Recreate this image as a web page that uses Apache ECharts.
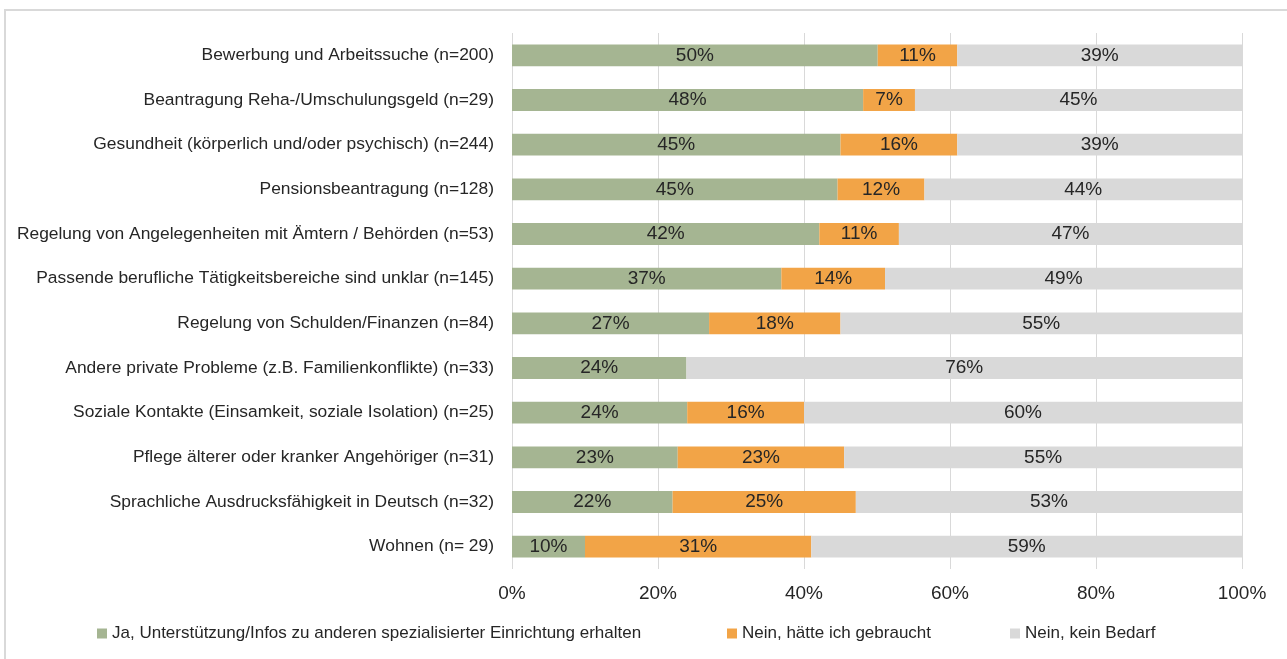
<!DOCTYPE html>
<html>
<head>
<meta charset="utf-8">
<style>
  html, body { margin: 0; padding: 0; background: #ffffff; }
  #chart { width: 1287px; height: 659px; }
</style>
<script src="https://cdn.jsdelivr.net/npm/echarts@6/dist/echarts.min.js"></script>
</head>
<body>
<div id="chart"></div>
<script>
// Themen (von oben nach unten)
const categories = [
  'Bewerbung und Arbeitssuche (n=200)',
  'Beantragung Reha-/Umschulungsgeld (n=29)',
  'Gesundheit (körperlich und/oder psychisch) (n=244)',
  'Pensionsbeantragung (n=128)',
  'Regelung von Angelegenheiten mit Ämtern / Behörden (n=53)',
  'Passende berufliche Tätigkeitsbereiche sind unklar (n=145)',
  'Regelung von Schulden/Finanzen (n=84)',
  'Andere private Probleme (z.B. Familienkonflikte) (n=33)',
  'Soziale Kontakte (Einsamkeit, soziale Isolation) (n=25)',
  'Pflege älterer oder kranker Angehöriger (n=31)',
  'Sprachliche Ausdrucksfähigkeit in Deutsch (n=32)',
  'Wohnen (n= 29)'
];

const seriesNames = [
  'Ja, Unterstützung/Infos zu anderen spezialisierter Einrichtung erhalten',
  'Nein, hätte ich gebraucht',
  'Nein, kein Bedarf'
];

// Anteile in Prozent
const jaErhalten    = [50.1, 48.1, 45.0, 44.6, 42.1, 36.9, 27.0, 23.9, 24.0, 22.7, 22.0, 10.0];
const neinGebraucht = [10.9, 7.1, 16.0, 11.9, 10.9, 14.2, 18.0, 0, 16.0, 22.8, 25.1, 31.0];
const keinBedarf    = [39.0, 44.8, 39.0, 43.5, 47.0, 48.9, 55.0, 76.1, 60.0, 54.5, 52.9, 59.0];

const axisTicks = [0, 20, 40, 60, 80, 100];

const colors = ['#a5b592', '#f2a447', '#d9d9d9'];
const font = 'Liberation Sans, Arial, sans-serif';
const textColor = '#262626';

function makeSeries(name, values, color) {
  return {
    name: name,
    type: 'bar',
    stack: 'total',
    barCategoryGap: '51%',
    data: values,
    itemStyle: { color: color },
    label: {
      show: true,
      position: 'inside',
      color: textColor,
      fontFamily: font,
      fontSize: 19,
      formatter: p => p.value > 0 ? Math.round(p.value) + '%' : ''
    },
    emphasis: { disabled: true }
  };
}

// one legend block per series so each entry sits at its own x position
const legendLefts = [92, 722, 1005];
const legends = seriesNames.map((name, i) => ({
  data: [name],
  left: legendLefts[i],
  top: 620,
  itemWidth: 10,
  itemHeight: 10,
  itemGap: 5,
  icon: 'rect',
  textStyle: { fontFamily: font, fontSize: 17, color: textColor },
  selectedMode: false
}));

const chart = echarts.init(document.getElementById('chart'), null, { renderer: 'canvas' });
chart.setOption({
  animation: false,
  backgroundColor: '#ffffff',
  textStyle: { fontFamily: font },
  graphic: [{
    type: 'rect',
    shape: { x: 5, y: 10, width: 1400, height: 800 },
    style: { fill: 'none', stroke: '#d9d9d9', lineWidth: 2 },
    silent: true,
    z: -10
  }],
  grid: { left: 512, right: 45, top: 33, bottom: 90, containLabel: false },
  legend: legends,
  xAxis: {
    type: 'value',
    min: 0,
    max: 100,
    interval: 20,
    axisLine: { show: false },
    axisTick: { show: false },
    splitLine: { show: true, lineStyle: { color: '#d9d9d9', width: 1 } },
    axisLabel: {
      margin: 15,
      fontFamily: font,
      fontSize: 19,
      color: textColor,
      formatter: v => axisTicks.includes(v) ? v + '%' : ''
    }
  },
  yAxis: {
    type: 'category',
    inverse: true,
    data: categories,
    axisLine: { show: false },
    axisTick: { show: false },
    axisLabel: {
      margin: 18,
      fontFamily: font,
      fontSize: 17.4,
      color: textColor
    }
  },
  series: [
    makeSeries(seriesNames[0], jaErhalten, colors[0]),
    makeSeries(seriesNames[1], neinGebraucht, colors[1]),
    makeSeries(seriesNames[2], keinBedarf, colors[2])
  ]
});
</script>
</body>
</html>
